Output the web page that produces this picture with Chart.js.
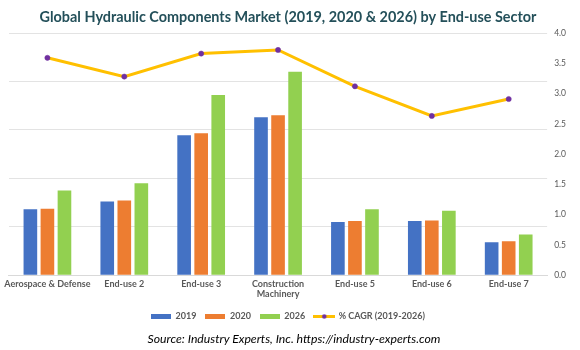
<!DOCTYPE html>
<html>
<head>
<meta charset="utf-8">
<script src="https://cdn.jsdelivr.net/npm/chart.js@4.4.1/dist/chart.umd.min.js"></script>
<style>
  html, body { margin: 0; padding: 0; background: #ffffff; }
  #wrap { position: relative; width: 580px; height: 350px; }
  #c { position: absolute; left: 0; top: 0; }
  #source { position: absolute; left: 0; top: 330px; width: 580px; height: 18px; line-height: 18px;
    text-align: center; font-family: Lato, "Open Sans", sans-serif; font-style: italic; font-size: 12.2px; color: #000; padding-left: 4px; }
</style>
</head>
<body>
<div id="wrap">
  <canvas id="c" width="580" height="331"></canvas>
  <div id="source">Source: Industry Experts, Inc. https://industry-experts.com</div>
</div>
<script>
const categories = ['Aerospace & Defense', 'End-use 2', 'End-use 3', ['Construction', 'Machinery'], 'End-use 5', 'End-use 6', 'End-use 7'];
const values2019 = [1.36, 1.52, 2.89, 3.26, 1.10, 1.12, 0.68];
const values2020 = [1.37, 1.54, 2.93, 3.30, 1.12, 1.13, 0.70];
const values2026 = [1.75, 1.90, 3.72, 4.20, 1.36, 1.33, 0.84];
const cagr = [3.59, 3.28, 3.66, 3.72, 3.12, 2.63, 2.91];
const rightTicks = [0, 0.5, 1.0, 1.5, 2.0, 2.5, 3.0, 3.5, 4.0];

const titleText = 'Global Hydraulic Components Market (2019, 2020 & 2026) by End-use Sector';

// fit title / source font sizes to the reference text widths
const mctx = document.createElement('canvas').getContext('2d');
mctx.font = 'bold 15px Lato';
const titleSize = Math.min(17, 15 * 497 / mctx.measureText(titleText).width);
mctx.font = 'italic 12px Lato';
const srcEl = document.getElementById('source');
const srcSize = 12 * 293 / mctx.measureText(srcEl.textContent).width;
srcEl.style.fontSize = srcSize.toFixed(2) + 'px';

function rectIcon(color) {
  const cv = document.createElement('canvas');
  cv.width = 20; cv.height = 5;
  const g = cv.getContext('2d');
  g.fillStyle = color; g.fillRect(0, 0, 20, 5);
  return cv;
}
function lineIcon() {
  const cv = document.createElement('canvas');
  cv.width = 22; cv.height = 7;
  const g = cv.getContext('2d');
  g.strokeStyle = '#FFC000'; g.lineWidth = 3;
  g.beginPath(); g.moveTo(0, 3.5); g.lineTo(22, 3.5); g.stroke();
  g.fillStyle = '#7030A0';
  g.beginPath(); g.arc(11, 3.5, 2.2, 0, Math.PI * 2); g.fill();
  return cv;
}

const icons = [rectIcon('#4472C4'), rectIcon('#ED7D31'), rectIcon('#92D050'), lineIcon()];

new Chart(document.getElementById('c'), {
  data: {
    labels: categories,
    datasets: [
      { type: 'bar', label: '2019', data: values2019, backgroundColor: '#4472C4', yAxisID: 'y', pointStyle: icons[0] },
      { type: 'bar', label: '2020', data: values2020, backgroundColor: '#ED7D31', yAxisID: 'y', pointStyle: icons[1] },
      { type: 'bar', label: '2026', data: values2026, backgroundColor: '#92D050', yAxisID: 'y', pointStyle: icons[2] },
      { type: 'line', label: '% CAGR (2019-2026)', data: cagr, yAxisID: 'y1', borderColor: '#FFC000', borderWidth: 3,
        pointRadius: 2.6, pointBackgroundColor: '#7030A0', pointBorderColor: '#7030A0', pointBorderWidth: 0.5,
        tension: 0, fill: false, pointStyle: 'circle' }
    ]
  },
  options: {
    responsive: false,
    animation: false,
    layout: { padding: { top: 8, right: 7, left: 3, bottom: 0 } },
    datasets: { bar: { barPercentage: 0.8, categoryPercentage: 0.665 } },
    plugins: {
      title: {
        display: true,
        text: titleText,
        color: '#24505A',
        font: { family: 'Lato', size: titleSize, weight: 'bold', lineHeight: 18 / titleSize },
        padding: { top: 0, bottom: 7 }
      },
      legend: {
        position: 'bottom',
        labels: {
          usePointStyle: true,
          pointStyleWidth: 20,
          boxHeight: 7,
          color: '#595959',
          font: { family: 'Lato', size: 9, weight: 'bold' },
          padding: 9,
          generateLabels: (chart) => chart.data.datasets.map((ds, i) => ({
            text: ds.label,
            pointStyle: icons[i],
            fillStyle: 'rgba(0,0,0,0)',
            strokeStyle: 'rgba(0,0,0,0)',
            lineWidth: 0,
            fontColor: '#595959',
            datasetIndex: i,
            hidden: false
          }))
        }
      },
      tooltip: { enabled: false }
    },
    scales: {
      x: {
        grid: { display: false, drawTicks: false },
        border: { color: '#D9D9D9', width: 1 },
        ticks: { color: '#595959', font: { family: 'Lato', size: 9, weight: 'bold', lineHeight: 1.1 }, maxRotation: 0, autoSkip: false, padding: 4 }
      },
      y: {
        position: 'left',
        min: 0, max: 5,
        ticks: { display: false, stepSize: 1 },
        grid: { color: '#E3E3E3', lineWidth: 1, drawTicks: false },
        border: { display: false }
      },
      y1: {
        position: 'right',
        min: 0, max: 4,
        afterBuildTicks: (axis) => { axis.ticks = rightTicks.map(v => ({ value: v })); },
        ticks: { color: '#595959', font: { family: 'Lato', size: 8.5 }, padding: 7, callback: (v) => Number(v).toFixed(1) },
        grid: { display: false, drawTicks: false },
        border: { display: false }
      }
    }
  }
});
</script>
</body>
</html>
